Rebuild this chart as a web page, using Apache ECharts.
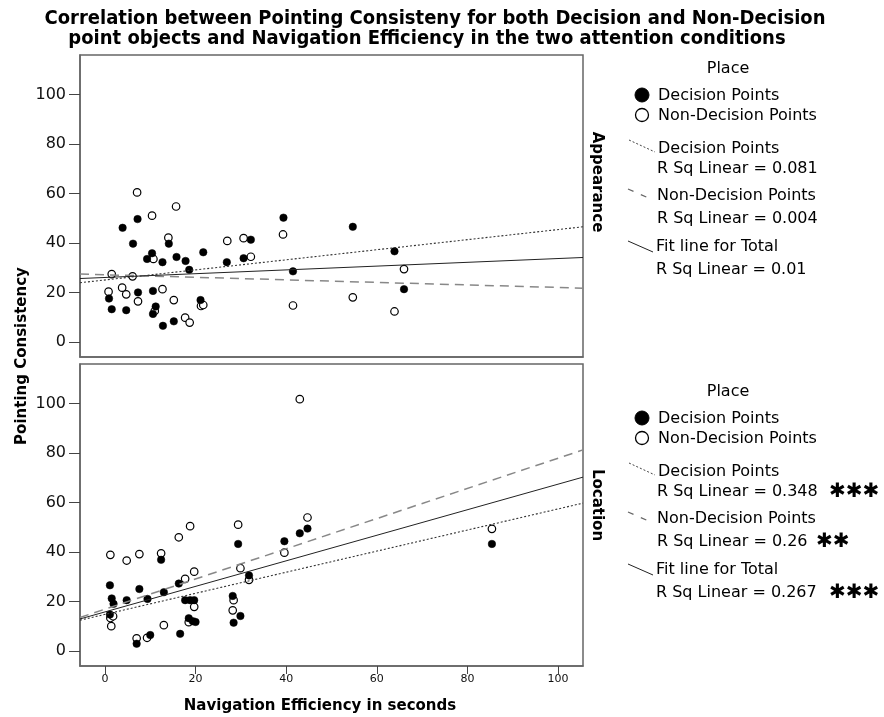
<!DOCTYPE html>
<html>
<head>
<meta charset="utf-8">
<script src="https://cdn.jsdelivr.net/npm/echarts@6/dist/echarts.min.js"></script>
<style>
  html, body { margin: 0; padding: 0; background: #fff; }
  #chart { width: 884px; height: 717px; }
</style>
</head>
<body>
<div id="chart"></div>
<script>
// tick values shared by both panels
const xTicks = [0, 20, 40, 60, 80, 100];
const yTicks = [0, 20, 40, 60, 80, 100];

// Appearance panel: [navigation efficiency, pointing consistency]
const appearDecision = [
  [3.9, 46.2], [7.2, 49.7], [6.2, 39.8], [10.4, 35.9], [9.3, 33.6], [12.7, 32.3],
  [14.1, 39.8], [15.8, 34.4], [17.8, 32.8], [18.6, 29.2], [21.7, 36.3], [26.9, 32.3],
  [30.6, 33.9], [32.2, 41.4], [39.4, 50.3], [41.5, 28.6], [0.9, 17.6], [1.5, 13.3],
  [4.7, 12.9], [7.3, 20.1], [10.6, 20.7], [11.2, 14.4], [10.6, 11.4], [12.8, 6.6],
  [15.2, 8.4], [21.1, 17.0], [54.7, 46.6], [63.9, 36.7], [66.0, 21.4]
];
const appearNonDecision = [
  [7.1, 60.5], [10.4, 51.1], [15.7, 54.8], [14.0, 42.2], [1.5, 27.5], [6.1, 26.6],
  [10.7, 33.6], [0.8, 20.4], [3.8, 22.0], [4.7, 19.3], [7.3, 16.5], [12.7, 21.4],
  [11.0, 12.6], [15.2, 17.0], [17.7, 9.9], [18.7, 7.9], [21.2, 14.6], [21.7, 15.0],
  [27.0, 40.9], [30.6, 42.0], [32.2, 34.5], [39.3, 43.5], [41.5, 14.8], [54.7, 18.1],
  [63.9, 12.4], [66.0, 29.5]
];

// Location panel
const locDecision = [
  [1.1, 26.6], [1.5, 21.3], [1.9, 19.1], [1.1, 14.8], [4.8, 20.6], [7.6, 25.1],
  [9.4, 21.1], [12.4, 36.9], [13.0, 23.8], [16.3, 27.3], [17.7, 20.6], [18.8, 20.6],
  [19.7, 20.6], [18.5, 13.3], [19.4, 12.1], [20.0, 11.8], [16.6, 7.0], [7.0, 3.0],
  [10.0, 6.5], [29.4, 43.3], [28.2, 22.3], [28.4, 11.5], [29.9, 14.2], [31.8, 30.6],
  [39.6, 44.4], [43.0, 47.6], [44.7, 49.5], [85.4, 43.3]
];
const locNonDecision = [
  [43.0, 101.8], [1.2, 38.9], [4.8, 36.6], [7.6, 39.2], [12.4, 39.5], [16.3, 46.0],
  [18.8, 50.5], [29.4, 51.1], [19.7, 32.1], [17.7, 29.2], [29.9, 33.5], [31.8, 28.8],
  [39.6, 39.8], [44.7, 54.0], [28.4, 20.6], [28.2, 16.5], [19.7, 17.9], [18.5, 11.7],
  [1.4, 10.1], [1.2, 13.4], [1.8, 14.1], [13.0, 10.5], [7.0, 5.2], [9.3, 5.4],
  [85.4, 49.4]
];

// fit line end points
const appearFitDecision = [[-5.5, 24.0], [105.5, 46.6]];
const appearFitNonDecision = [[-5.5, 27.5], [105.5, 21.8]];
const appearFitTotal = [[-5.5, 25.7], [105.5, 34.2]];
const locFitDecision = [[-5.5, 12.5], [105.5, 59.8]];
const locFitNonDecision = [[-5.5, 13.6], [105.5, 81.3]];
const locFitTotal = [[-5.5, 13.0], [105.5, 70.3]];

const appearRSq = ["R Sq Linear = 0.081", "R Sq Linear = 0.004", "R Sq Linear = 0.01"];
const locRSq = ["R Sq Linear = 0.348", "R Sq Linear = 0.26", "R Sq Linear = 0.267"];
const locStars = ["✱✱✱", "✱✱", "✱✱✱"];

const FONT = "DejaVu Sans";
const chart = echarts.init(document.getElementById("chart"));

function xAxisFor(gridIndex, showLabels) {
  return {
    type: "value", gridIndex, min: -5.5, max: 105.5,
    axisLine: { show: true, onZero: false, lineStyle: { color: "#666", width: 1.5 } },
    axisTick: { show: showLabels, customValues: xTicks, length: 8, lineStyle: { color: "#444" } },
    axisLabel: { show: showLabels, customValues: xTicks, margin: 8, fontFamily: FONT, fontSize: 11, color: "#111" },
    splitLine: { show: false }
  };
}
function yAxisFor(gridIndex) {
  return {
    type: "value", gridIndex, min: -6, max: 116,
    axisLine: { show: true, onZero: false, lineStyle: { color: "#666", width: 1.5 } },
    axisTick: { show: true, customValues: yTicks, length: 11, lineStyle: { color: "#444" } },
    axisLabel: { customValues: yTicks, margin: 14, fontFamily: FONT, fontSize: 16, color: "#111" },
    splitLine: { show: false }
  };
}

function scatter(data, idx, filled) {
  return {
    type: "scatter", xAxisIndex: idx, yAxisIndex: idx, data, symbolSize: 7.5,
    itemStyle: filled ? { color: "#000", borderColor: "#000", borderWidth: 0.5, opacity: 1 }
                      : { color: "#fff", borderColor: "#000", borderWidth: 1.2, opacity: 1 },
    z: filled ? 4 : 3
  };
}
function fitLine(data, idx, kind) {
  const styles = {
    dotted: { color: "#333", width: 1.1, type: [2, 2] },
    dashed: { color: "#888", width: 1.5, type: [9, 6] },
    solid: { color: "#222", width: 1, type: "solid" }
  };
  return {
    type: "line", xAxisIndex: idx, yAxisIndex: idx, data, symbol: "none",
    lineStyle: styles[kind], z: 5, silent: true
  };
}

function text(x, y, str, opts) {
  return {
    type: "text", x, y, silent: true,
    style: Object.assign({ text: str, fill: "#000", font: "16px '" + FONT + "'", textVerticalAlign: "middle" }, opts || {})
  };
}

function legendBlock(dy, rsq, stars) {
  const els = [];
  els.push(text(728, 69 + dy, "Place", { textAlign: "center" }));
  els.push({ type: "circle", shape: { cx: 642, cy: 95 + dy, r: 7 }, style: { fill: "#000", stroke: "#000" } });
  els.push(text(658, 96 + dy, "Decision Points"));
  els.push({ type: "circle", shape: { cx: 642, cy: 115 + dy, r: 6.5 }, style: { fill: "#fff", stroke: "#000", lineWidth: 1.3 } });
  els.push(text(658, 116 + dy, "Non-Decision Points"));
  els.push({ type: "line", shape: { x1: 629, y1: 140 + dy, x2: 655, y2: 152 + dy }, style: { stroke: "#444", lineWidth: 1, lineDash: [2, 2] } });
  els.push(text(658, 149 + dy, "Decision Points"));
  els.push(text(657, 169 + dy, rsq[0]));
  els.push({ type: "line", shape: { x1: 628, y1: 189 + dy, x2: 653, y2: 200 + dy }, style: { stroke: "#666", lineWidth: 1.2, lineDash: [6, 8] } });
  els.push(text(657, 196 + dy, "Non-Decision Points"));
  els.push(text(657, 219 + dy, rsq[1]));
  els.push({ type: "line", shape: { x1: 628, y1: 241 + dy, x2: 653, y2: 252 + dy }, style: { stroke: "#222", lineWidth: 1 } });
  els.push(text(656, 247 + dy, "Fit line for Total"));
  els.push(text(656, 270 + dy, rsq[2]));
  if (stars) {
    els.push(text(829, 169 + dy, stars[0], { font: "20px '" + FONT + "'" }));
    els.push(text(816, 219 + dy, stars[1], { font: "20px '" + FONT + "'" }));
    els.push(text(829, 270 + dy, stars[2], { font: "20px '" + FONT + "'" }));
  }
  return els;
}

const titleFont = "bold 20px '" + FONT + " Condensed', '" + FONT + "'";
const graphics = [
  text(435, 19, "Correlation between Pointing Consisteny for both Decision and Non-Decision",
    { textAlign: "center", font: titleFont }),
  text(427, 39, "point objects and Navigation Efficiency in the two attention conditions",
    { textAlign: "center", font: titleFont }),
  Object.assign(text(0, 0, "Pointing Consistency", { textAlign: "center", font: "bold 15px '" + FONT + "'" }),
    { x: 22, y: 356, rotation: Math.PI / 2 }),
  text(320, 706, "Navigation Efficiency in seconds", { textAlign: "center", font: "bold 15px '" + FONT + "'" }),
  Object.assign(text(0, 0, "Appearance", { textAlign: "center", font: "bold 15px '" + FONT + "'" }),
    { x: 597, y: 182, rotation: -Math.PI / 2 }),
  Object.assign(text(0, 0, "Location", { textAlign: "center", font: "bold 15px '" + FONT + "'" }),
    { x: 597, y: 505, rotation: -Math.PI / 2 })
].concat(legendBlock(0, appearRSq, null), legendBlock(323, locRSq, locStars));

chart.setOption({
  animation: false,
  backgroundColor: "#fff",
  grid: [
    { left: 80, top: 55, width: 503, height: 302, show: true, borderColor: "#666", borderWidth: 1.5, backgroundColor: "#fff" },
    { left: 80, top: 364, width: 503, height: 302, show: true, borderColor: "#666", borderWidth: 1.5, backgroundColor: "#fff" }
  ],
  xAxis: [xAxisFor(0, false), xAxisFor(1, true)],
  yAxis: [yAxisFor(0), yAxisFor(1)],
  series: [
    scatter(appearNonDecision, 0, false),
    scatter(appearDecision, 0, true),
    fitLine(appearFitDecision, 0, "dotted"),
    fitLine(appearFitNonDecision, 0, "dashed"),
    fitLine(appearFitTotal, 0, "solid"),
    scatter(locNonDecision, 1, false),
    scatter(locDecision, 1, true),
    fitLine(locFitDecision, 1, "dotted"),
    fitLine(locFitNonDecision, 1, "dashed"),
    fitLine(locFitTotal, 1, "solid")
  ],
  graphic: graphics
});
</script>
</body>
</html>
